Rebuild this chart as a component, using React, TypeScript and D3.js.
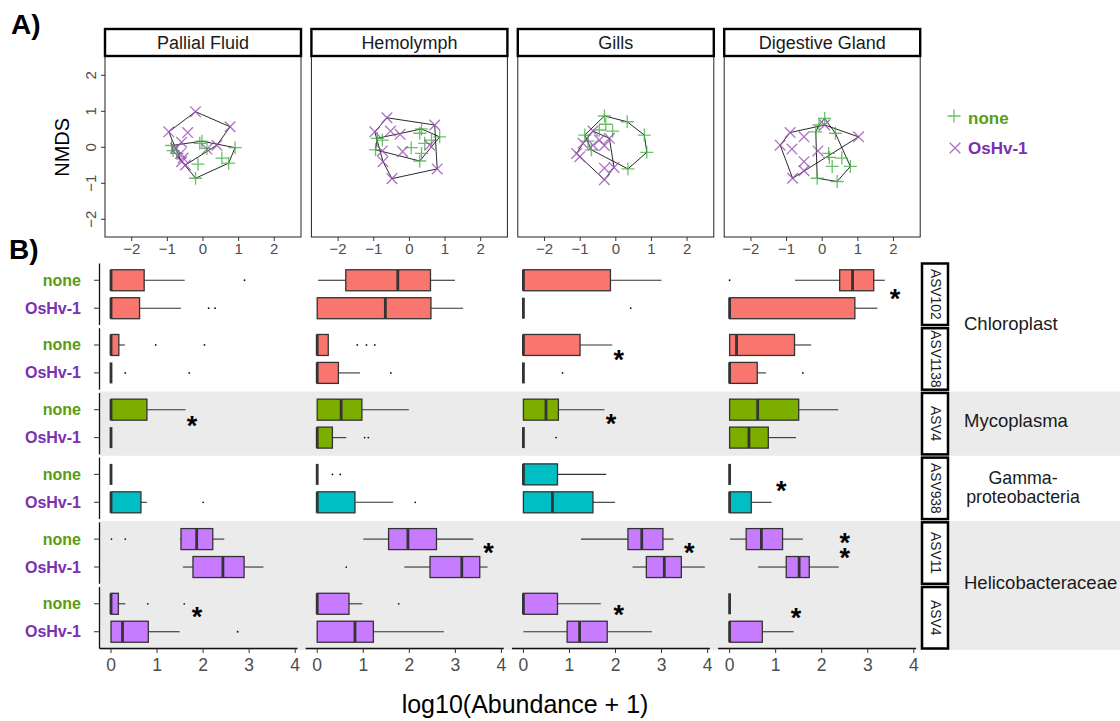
import React from 'react';
import * as d3 from 'd3';

const tissues = ['Pallial Fluid', 'Hemolymph', 'Gills', 'Digestive Gland'];
const groups = ['none', 'OsHv-1'];
const asvLabels = ['ASV102', 'ASV1138', 'ASV4', 'ASV938', 'ASV11', 'ASV4'];
const asvFamily = [0, 0, 1, 2, 3, 3];
const families = [['Chloroplast'], ['Mycoplasma'], ['Gamma-', 'proteobacteria'], ['Helicobacteraceae']];
const familyColors = ['#F8766D', '#7CAE00', '#00BFC4', '#C77CFF'];
const shadedFamilies = [1, 3];
const nmdsTicks = [-2, -1, 0, 1, 2];
const abundanceTicks = [0, 1, 2, 3, 4];

// NMDS scores, one list per tissue
const nmdsNone: number[][][] = [
  [[-0.09, 0.11], [-0.03, 0.17], [-0.88, 0.05], [-0.84, -0.09], [-0.73, -0.17], [0.11, -0.03], [0.9, -0.01], [0.53, -0.3], [0.72, -0.44], [-0.14, -0.47], [-0.21, -0.86]],
  [[0.34, 0.51], [0.29, 0.39], [-0.76, 0.2], [-0.9, 0.25], [-0.95, -0.07], [0.05, -0.01], [0.29, -0.38], [0.34, -0.17], [0.43, 0.11], [0.62, 0.2], [0.85, 0.29]],
  [[-0.32, 0.87], [0.32, 0.71], [0.8, 0.34], [0.87, -0.14], [0.34, -0.6], [-0.28, 0.64], [-0.09, 0.45], [-0.46, 0.48], [-0.87, 0.34], [-0.69, -0.07], [-0.78, 0.17]],
  [[0.07, 0.8], [-0.09, 0.62], [-0.18, 0.43], [0.37, 0.39], [0.18, -0.17], [0.2, -0.28], [0.55, -0.3], [0.28, -0.53], [0.79, -0.53], [-0.14, -0.86], [0.42, -0.95]],
];
const nmdsOshv: number[][][] = [
  [[-0.21, 0.99], [0.76, 0.57], [-0.96, 0.43], [-0.43, 0.41], [-0.6, 0.14], [-0.77, -0.03], [-0.63, -0.17], [-0.56, -0.3], [-0.49, -0.49], [-0.6, -0.4], [0.39, 0.06], [0.11, -0.05]],
  [[-0.63, 0.82], [-0.97, 0.43], [-0.53, 0.45], [-0.26, 0.36], [0.71, 0.62], [-0.76, -0.1], [-0.74, -0.4], [-0.19, -0.12], [0.57, 0.06], [0.78, -0.6], [-0.49, -0.87]],
  [[-0.64, 0.45], [-0.92, 0.11], [-0.64, 0.06], [-0.46, 0.2], [-0.18, 0.25], [-0.32, 0.05], [-1.01, -0.26], [-1.1, -0.17], [-0.32, -0.58], [-0.05, -0.56], [-0.32, -0.9]],
  [[0.07, 0.62], [-0.9, 0.41], [-0.51, 0.29], [-1.18, 0.06], [-0.85, -0.05], [-0.12, -0.1], [1.02, 0.29], [-0.51, -0.4], [-0.51, -0.65], [-0.83, -0.86]],
];

// box stats [lower whisker, q1, median, q3, upper whisker], tissue -> ASV row
const boxNone: number[][][] = [
  [[0, 0, 0, 0.72, 1.6], [0, 0, 0, 0.17, 0.3], [0, 0, 0, 0.78, 1.62], [0, 0, 0, 0, 0], [1.5, 1.52, 1.86, 2.21, 2.46], [0, 0, 0, 0.16, 0.31]],
  [[0.02, 0.62, 1.75, 2.46, 2.99], [0, 0, 0, 0.24, 0.24], [0, 0, 0.52, 0.97, 1.99], [0, 0, 0, 0, 0], [1.0, 1.55, 1.97, 2.59, 3.39], [0, 0, 0, 0.69, 0.98]],
  [[0, 0, 0, 1.89, 3.0], [0, 0, 0, 1.23, 1.93], [0, 0, 0.49, 0.76, 1.76], [0, 0, 0, 0.74, 1.8], [1.25, 2.27, 2.57, 3.03, 3.26], [0, 0, 0, 0.74, 1.68]],
  [[1.42, 2.39, 2.67, 3.13, 3.37], [0, 0, 0.15, 1.41, 1.77], [0, 0, 0.61, 1.5, 2.36], [0, 0, 0, 0, 0], [0.01, 0.36, 0.69, 1.15, 1.59], [0, 0, 0, 0, 0]],
];
const boxOshv: number[][][] = [
  [[0, 0, 0, 0.62, 1.52], [0, 0, 0, 0, 0], [0, 0, 0, 0, 0], [0, 0, 0, 0.65, 0.78], [1.56, 1.78, 2.43, 2.89, 3.31], [0, 0, 0.25, 0.81, 1.49]],
  [[0, 0, 1.48, 2.47, 3.17], [0, 0, 0, 0.46, 0.93], [0, 0, 0, 0.33, 0.63], [0, 0, 0, 0.82, 1.65], [1.89, 2.45, 3.14, 3.53, 3.7], [0, 0, 0.82, 1.22, 2.75]],
  [[0, 0, 0, 0, 0], [0, 0, 0, 0, 0], [0, 0, 0, 0, 0], [0, 0, 0.63, 1.51, 1.99], [2.37, 2.67, 3.06, 3.43, 3.94], [0, 0.95, 1.22, 1.82, 2.79]],
  [[0, 0, 0, 2.72, 3.21], [0, 0, 0, 0.6, 0.79], [0, 0, 0.42, 0.84, 1.44], [0, 0, 0, 0.47, 0.91], [0.62, 1.23, 1.51, 1.73, 2.37], [0, 0, 0, 0.71, 1.39]],
];
const outNone: number[][][] = [
  [[2.9], [0.97, 2.03], [], [], [0.01, 0.31], [0.8, 1.59]],
  [[], [0.87, 1.07, 1.25], [], [0.33, 0.5], [], [1.77]],
  [[], [], [], [], [], []],
  [[0], [], [], [], [], []],
];
const outOshv: number[][][] = [
  [[2.12, 2.26], [0.31, 1.7], [], [2.0], [], [2.75]],
  [[], [1.6], [1.03, 1.11], [2.13], [0.63], []],
  [[2.33], [0.85], [0.71], [], [], []],
  [[], [1.59], [], [], [], []],
];

// significance stars: [tissue, ASV row, abundance, slot between none (0) and OsHv-1 (1), count stacked]
const stars: number[][] = [
  [0, 2, 1.76, 0.36, 1], [0, 5, 1.87, 0.25, 1],
  [1, 4, 3.72, 0.27, 1],
  [2, 1, 2.07, 0.31, 1], [2, 2, 1.9, 0.29, 1], [2, 4, 3.6, 0.27, 1], [2, 5, 2.07, 0.17, 1],
  [3, 0, 3.59, 0.45, 1], [3, 3, 1.12, 0.37, 1], [3, 4, 2.5, -0.09, 2], [3, 5, 1.44, 0.28, 1],
];

const W = 1120;
const H = 721;
const FONT = '"Liberation Sans", Arial, Helvetica, sans-serif';
const GREEN_TXT = '#589c14';
const PURPLE_TXT = '#7b2fb3';
const GREEN_PT = '#45b045';
const PURPLE_PT = '#9a4db5';
const AXIS_TXT = '#4d4d4d';
const BOX_LINE = '#333333';

const plusPath = (h: number) => `M${-h},0H${h}M0,${-h}V${h}`;
const crossPath = (h: number) => `M${-h},${-h}L${h},${h}M${-h},${h}L${h},${-h}`;

const App: React.FC = () => {
  const yN = d3.scaleLinear().domain([-2.5, 2.5]).range([237.3, 57.3]);
  const nmdsX = (i: number) => d3.scaleLinear().domain([-2.75, 2.75]).range([105 + i * 206.4, 105 + i * 206.4 + 196]);
  const boxX = (i: number) => d3.scaleLinear().domain([-0.25, 4.05]).range([99.5 + i * 206.2, 99.5 + i * 206.2 + 198]);
  const rowScale = d3.scaleBand<number>().domain(d3.range(asvLabels.length)).range([263.5, 648.5]).paddingInner(0.05);
  const bw = rowScale.bandwidth();
  const grp = (r: number) =>
    d3.scalePoint<string>().domain(groups).range([rowScale(r)!, rowScale(r)! + bw]).padding(0.6);
  const boxH = 21;
  const boxBottom = rowScale(asvLabels.length - 1)! + bw;

  const drawBox = (x: d3.ScaleLinear<number, number>, y: number, s: number[], outs: number[], color: string, key: string) => {
    const [lo, q1, med, q3, hi] = s;
    return (
      <g key={key}>
        <line x1={x(lo)} x2={x(q1)} y1={y} y2={y} stroke={BOX_LINE} strokeWidth={1.1} />
        <line x1={x(q3)} x2={x(hi)} y1={y} y2={y} stroke={BOX_LINE} strokeWidth={1.1} />
        {q3 > q1 && (
          <rect x={x(q1)} y={y - boxH / 2} width={x(q3) - x(q1)} height={boxH} fill={color} stroke={BOX_LINE} strokeWidth={1.3} />
        )}
        <line x1={x(med)} x2={x(med)} y1={y - boxH / 2} y2={y + boxH / 2} stroke={BOX_LINE} strokeWidth={2.8} />
        {outs.map((o, k) => (
          <circle key={k} cx={x(o)} cy={y} r={0.9} fill="#111" />
        ))}
      </g>
    );
  };

  // family row spans
  const familySpans = families.map((_, f) => {
    const rows = asvFamily.map((v, r) => (v === f ? r : -1)).filter(r => r >= 0);
    return { top: rowScale(rows[0])!, bottom: rowScale(rows[rows.length - 1])! + bw };
  });

  return (
    <div style={{ position: 'absolute', left: 0, top: 0 }}>
      <svg width={W} height={H} style={{ display: 'block', background: '#fff' }} fontFamily={FONT}>
        {/* panel tags */}
        <text x={11} y={34} fontSize={28} fontWeight="bold">A)</text>
        <text x={9} y={259} fontSize={28} fontWeight="bold">B)</text>

        {/* ---------- A) NMDS ---------- */}
        <text transform={`translate(69,${yN(0)}) rotate(-90)`} textAnchor="middle" fontSize={20}>NMDS</text>
        {nmdsTicks.map(t => (
          <g key={'yt' + t}>
            <line x1={101} x2={105} y1={yN(t)} y2={yN(t)} stroke="#333" strokeWidth={1} />
            <text transform={`translate(96,${yN(t)}) rotate(-90)`} textAnchor="middle" fontSize={15} fill={AXIS_TXT}>
              {t < 0 ? '\u2212' + Math.abs(t) : t}
            </text>
          </g>
        ))}
        {tissues.map((t, i) => {
          const x = nmdsX(i);
          const [x0, x1] = x.range();
          const hullOf = (pts: number[][]) => {
            const hull = d3.polygonHull(pts.map(p => [x(p[0]), yN(p[1])] as [number, number]));
            return hull ? 'M' + hull.map(p => p.join(',')).join('L') + 'Z' : '';
          };
          return (
            <g key={t}>
              <rect x={x0} y={56} width={x1 - x0} height={181} fill="#fff" stroke="#222" strokeWidth={1} />
              <path d={hullOf(nmdsNone[i])} fill="none" stroke="#111" strokeWidth={0.9} />
              <path d={hullOf(nmdsOshv[i])} fill="none" stroke="#111" strokeWidth={0.9} />
              {nmdsNone[i].map((p, k) => (
                <path key={'n' + k} d={plusPath(6.5)} transform={`translate(${x(p[0])},${yN(p[1])})`}
                  stroke={GREEN_PT} strokeOpacity={0.8} strokeWidth={1.3} fill="none" />
              ))}
              {nmdsOshv[i].map((p, k) => (
                <path key={'o' + k} d={crossPath(5.3)} transform={`translate(${x(p[0])},${yN(p[1])})`}
                  stroke={PURPLE_PT} strokeOpacity={0.8} strokeWidth={1.3} fill="none" />
              ))}
              <rect x={x0} y={29} width={x1 - x0} height={27} fill="#fff" stroke="#000" strokeWidth={2.4} />
              <text x={(x0 + x1) / 2} y={42.5} dominantBaseline="central" textAnchor="middle" fontSize={18} fill="#1a1a1a">{t}</text>
              {nmdsTicks.map(v => (
                <g key={v}>
                  <line x1={x(v)} x2={x(v)} y1={237} y2={241} stroke="#333" strokeWidth={1} />
                  <text x={x(v)} y={253.5} textAnchor="middle" fontSize={15} fill={AXIS_TXT}>
                    {v < 0 ? '\u2212' + Math.abs(v) : v}
                  </text>
                </g>
              ))}
            </g>
          );
        })}
        {/* legend */}
        <path d={plusPath(6.5)} transform="translate(954,116)" stroke={GREEN_PT} strokeOpacity={0.8} strokeWidth={1.3} fill="none" />
        <text x={968} y={118} dominantBaseline="central" fontSize={17} fontWeight="bold" fill={GREEN_TXT}>{groups[0]}</text>
        <path d={crossPath(5.3)} transform="translate(955,148)" stroke={PURPLE_PT} strokeOpacity={0.8} strokeWidth={1.3} fill="none" />
        <text x={968} y={148} dominantBaseline="central" fontSize={17} fontWeight="bold" fill={PURPLE_TXT}>{groups[1]}</text>

        {/* ---------- B) boxplots ---------- */}
        {familySpans.map((s, f) =>
          shadedFamilies.includes(f) ? (
            <rect key={'bg' + f} x={100} y={s.top - 1.4} width={W - 100} height={s.bottom - s.top + 2.8} fill="#ebebeb" />
          ) : null
        )}

        {asvLabels.map((a, r) => {
          const g = grp(r);
          const top = rowScale(r)!;
          return (
            <g key={'row' + r}>
              <line x1={99.5} x2={99.5} y1={top} y2={top + bw} stroke="#111" strokeWidth={1.3} />
              {groups.map((gname, gi) => (
                <g key={gname}>
                  <line x1={94} x2={99.5} y1={g(gname)} y2={g(gname)} stroke="#333" strokeWidth={1} />
                  <text x={81} y={g(gname)} textAnchor="end" dominantBaseline="central" fontSize={16} fontWeight="bold"
                    fill={gi === 0 ? GREEN_TXT : PURPLE_TXT}>{gname}</text>
                </g>
              ))}
              {tissues.map((t, i) => {
                const x = boxX(i);
                const color = familyColors[asvFamily[r]];
                return (
                  <g key={t}>
                    {drawBox(x, g(groups[0])!, boxNone[i][r], outNone[i][r], color, 'n')}
                    {drawBox(x, g(groups[1])!, boxOshv[i][r], outOshv[i][r], color, 'o')}
                  </g>
                );
              })}
              <rect x={922} y={top} width={26} height={bw} fill="#fff" stroke="#000" strokeWidth={2.5} />
              <text transform={`translate(935,${top + bw / 2}) rotate(90)`} textAnchor="middle" dominantBaseline="central"
                fontSize={13.8} fill="#1a1a1a">{a}</text>
            </g>
          );
        })}

        {stars.map(([t, r, v, slot, n], k) => {
          const g = grp(r);
          const y = d3.scaleLinear().domain([0, 1]).range([g(groups[0])!, g(groups[1])!])(slot);
          const x = boxX(t)(v);
          return (
            <text key={'s' + k} x={x} y={y + 15} textAnchor="middle" fontSize={27} fontWeight="bold" fill="#000">
              {d3.range(n).map(j => (
                <tspan key={j} x={x} dy={j === 0 ? 0 : 15}>*</tspan>
              ))}
            </text>
          );
        })}

        {families.map((lines, f) => {
          const s = familySpans[f];
          const cy = (s.top + s.bottom) / 2 - 3;
          if (lines.length === 1) {
            return (
              <text key={'f' + f} x={964} y={cy} dominantBaseline="central" fontSize={18.5} fill="#1a1a1a">{lines[0]}</text>
            );
          }
          return (
            <text key={'f' + f} x={1023} y={cy + 3 - 4.5} textAnchor="middle" fontSize={17.8} fill="#1a1a1a">
              {lines.map((l, k) => (
                <tspan key={k} x={1023} dy={k === 0 ? 0 : 19.5}>{l}</tspan>
              ))}
            </text>
          );
        })}

        {tissues.map((t, i) => {
          const x = boxX(i);
          const [x0, x1] = x.range();
          return (
            <g key={'ax' + t}>
              <line x1={x0} x2={x1} y1={boxBottom} y2={boxBottom} stroke="#111" strokeWidth={1.3} />
              {abundanceTicks.map(v => (
                <g key={v}>
                  <line x1={x(v)} x2={x(v)} y1={boxBottom} y2={boxBottom + 4.5} stroke="#333" strokeWidth={1} />
                  <text x={x(v)} y={670.5} textAnchor="middle" fontSize={17.5} fill={AXIS_TXT}>{v}</text>
                </g>
              ))}
            </g>
          );
        })}
        <text x={525} y={713} textAnchor="middle" fontSize={25} fill="#000">log10(Abundance + 1)</text>
      </svg>
    </div>
  );
};

export default App;
